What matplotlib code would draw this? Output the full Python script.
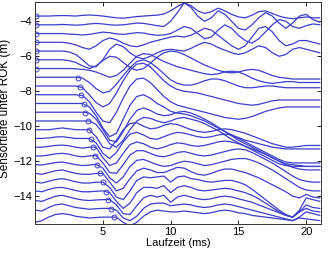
import matplotlib
matplotlib.use("Agg")
import matplotlib.pyplot as plt
import numpy as np

plt.rcParams['font.family'] = ['Liberation Sans', 'DejaVu Sans']

# time axis of the traces (ms)
t = [i * 0.5 for i in range(43)]

# sensor depths (m) and first-break picks (ms)
depth = [-3.7, -4.2, -4.7, -5.2, -5.7, -6.2, -6.7, -7.2, -7.7, -8.2, -8.7, -9.2,
         -9.7, -10.2, -10.7, -11.2, -11.7, -12.2, -12.7, -13.2, -13.7, -14.2, -14.7, -15.2]
pick = [0.1, 0.1, 0.1, 0.1, 0.1, 0.1, 0.1, 3.2, 3.3, 3.4, 3.6, 3.7,
        3.9, 4.0, 4.1, 4.3, 4.4, 4.6, 4.8, 5.0, 5.2, 5.4, 5.6, 5.8]

# trace amplitudes (m), one list per sensor
tr0 = [0,0,0,.02,.03,.02,0,.04,.06,.04, 0,-.05,-.1,-.12,-.08,-.03,0,.03,.05,.12,
       .3,.55,.75,.6,.3,.15,.25,.45,.3,.1, -.05,-.1,.05,.25,.3,.15,0,-.1,-.15,-.1, -.05,-.1,-.1]
tr1 = [0,0,0,0,.02,0,-.02,0,.05,.08, .05,0,-.02,0,.05,.1,.08,.02,-.05,-.1,
       .2,.7,1.25,1.0,.5,.2,.4,.8,.6,.2, -.2,-.3,0,.4,.7,.5,.1,-.2,.1,.5, .6,.3,.15]
tr2 = [0,0,0,0,0,-.03,-.05,-.08,-.05,.02, .08,.05,-.02,-.05,0,.05,.03,-.05,-.1,-.08,
       0,.2,.4,.3,0,-.3,-.2,.2,.5,.3, -.1,-.4,-.55,-.3,.1,.5,.8,.7,.4,.3, .45,.55,.5]
tr3 = [0,0,0,0,0,-.05,-.15,-.3,-.4,-.2, .1,.25,.15,-.05,-.2,-.25,-.15,0,.1,.2,
       .3,.35,.3,.4,.6,.8,.7,.4,.1,-.2, -.4,-.2,.3,.8,.9,.6,.1,-.2,-.1,.1, .1,0,-.1]
tr4 = [0,0,0,0,0,-.05,-.2,-.5,-.85,-.9, -.5,.1,.4,.25,-.1,-.35,-.45,-.3,-.1,.05,
       .1,.05,0,.15,.35,.5,.4,.2,.05,-.1, -.2,-.1,.1,.3,.2,-.1,-.3,-.2,.1,.2, .1,0,-.1]
tr5 = [0,0,0,0,0,-.05,-.15,-.35,-.5,-.35, -.05,.2,.15,-.15,-.45,-.6,-.5,-.2,.15,.4,
       .5,.45,.3,.1,-.1,-.3,-.45,-.6,-.7,-.75, -.7,-.6,-.55,-.6,-.75,-.9,-1.0,-1.05,-1.1,-1.1, -1.1,-1.1,-1.1]
tr6 = [0,0,0,0,0,0,-.02,-.05,-.1,-.2, -.35,-.5,-.4,-.1,.3,.7,.85,.8,.6,.4,
       .25,.1,0,-.1,-.2,-.3,-.35,-.3,-.2,-.15, -.2,-.35,-.55,-.7,-.8,-.85,-.8,-.75,-.75,-.8, -.8,-.8,-.8]
tr7 = [0,0,0,0,0,0,0,-.05,-.3,-.65, -.9,-.8,-.4,.1,.55,.9,1.0,.85,.55,.2,
       -.15,-.35,-.45,-.45,-.35,-.2,-.1,-.1,-.2,-.35, -.5,-.6,-.6,-.55,-.5,-.5,-.55,-.6,-.6,-.6, -.6,-.6,-.6]
tr8 = [0,0,0,0,0,0,0,-.1,-.5,-.95, -1.2,-1.0,-.4,.3,.9,1.25,1.3,1.1,.7,.3,
       0,-.2,-.3,-.35,-.4,-.5,-.6,-.7,-.8,-.9, -1.0,-1.05,-1.1,-1.05,-.95,-.85,-.8,-.8,-.8,-.8, -.8,-.8,-.8]
tr9 = [0,0,0,0,0,0,0,-.05,-.4,-1.0, -1.5,-1.6,-1.0,-.2,.5,.9,.95,.7,.3,-.1,
       -.4,-.6,-.7,-.8,-.9,-1.0,-1.1,-1.2,-1.3,-1.35, -1.4,-1.35,-1.25,-1.1,-.95,-.85,-.75,-.7,-.7,-.7, -.7,-.7,-.7]
tr10 = [0,0,0,0,0,0,0,0,-.2,-.7, -1.4,-1.9,-1.7,-.9,-.1,.4,.5,.3,0,-.2,
        -.45,-.55,-.6,-.7,-.85,-1.0,-1.2,-1.4,-1.6,-1.8, -2.0,-2.2,-2.4,-2.6,-2.8,-3.0,-3.2,-3.35,-3.4,-3.4, -3.4,-3.4,-3.4]
tr11 = [0,0,0,0,0,0,0,0,-.05,-.4, -1.0,-1.6,-1.7,-1.1,-.4,.1,.25,.1,-.1,-.2,
        -.15,0,.05,-.05,-.2,-.4,-.6,-.85,-1.1,-1.35, -1.6,-1.8,-2.0,-2.2,-2.4,-2.6,-2.8,-2.95,-3.0,-3.05, -3.1,-3.1,-3.1]
tr12 = [0,0,0,0,0,0,0,0,0,-.2, -.7,-1.3,-1.5,-1.1,-.5,0,.2,.15,0,-.1,
        0,.15,.2,.1,0,-.15,-.35,-.55,-.8,-1.05, -1.25,-1.45,-1.65,-1.85,-2.05,-2.25,-2.45,-2.55,-2.6,-2.6, -2.6,-2.6,-2.6]
tr13 = [0,0,0,.05,.1,.05,0,0,0,-.4, -1.0,-1.1,-.6,0,.35,.4,.2,.05,.1,.25,
        .35,.3,.15,0,-.1,-.15,-.1,0,.05,0, -.1,-.2,-.35,-.5,-.65,-.8,-.9,-1.0,-1.0,-.95, -.9,-.9,-.9]
tr14 = [0,0,.03,.08,.1,.05,0,0,0,-.25, -.85,-1.15,-.8,-.2,.25,.35,.2,0,-.05,.1,
        .25,.35,.3,.2,.1,.05,.1,.2,.25,.2, .05,-.1,-.2,-.3,-.4,-.5,-.55,-.6,-.6,-.6, -.6,-.6,-.6]
tr15 = [0,0,.05,.1,.12,.08,0,-.05,0,0, -.6,-1.05,-.9,-.35,.15,.3,.2,0,-.1,0,
        .15,.25,.2,.1,.05,.1,.2,.3,.35,.3, .2,.05,-.1,-.25,-.4,-.6,-.8,-1.0,-1.15,-1.25, -1.3,-1.3,-1.3]
tr16 = [0,0,.05,.12,.15,.1,0,-.05,0,.02, -.4,-.95,-1.0,-.5,.05,.3,.3,.15,0,-.05,
        .05,.2,.25,.15,.05,0,.05,.15,.25,.35, .4,.35,.2,0,-.2,-.4,-.65,-.9,-1.15,-1.35, -1.45,-1.5,-1.5]
tr17 = [0,-.02,.05,.12,.15,.08,0,-.05,-.02,.02, -.2,-.75,-1.05,-.7,-.1,.25,.3,.15,0,-.1,
        -.05,.1,.2,.15,.05,-.05,0,.1,.2,.3, .35,.35,.25,.1,-.1,-.3,-.55,-.8,-1.05,-1.3, -1.45,-1.5,-1.5]
tr18 = [0,-.05,.05,.15,.2,.1,0,-.05,-.05,0, 0,-.5,-1.0,-.85,-.3,.15,.3,.2,.05,.05,
        .2,.35,.3,.1,-.05,-.1,0,.15,.25,.25, .15,.05,-.1,-.25,-.45,-.65,-.85,-1.05,-1.3,-1.4, -1.2,-1.35,-1.4]
tr19 = [0,-.05,.05,.15,.2,.12,.02,-.05,-.05,0, 0,-.3,-.85,-1.0,-.5,.1,.3,.25,.3,.35,
        0,.3,.35,.2,.15,.05,0,.05,.1,.1, 0,-.15,-.4,-.7,-1.0,-1.3,-1.6,-1.85,-2.0,-1.6, -.9,-1.0,-1.1]
tr20 = [0,-.05,.08,.18,.2,.12,.02,-.05,-.05,-.02, 0,-.1,-.6,-1.0,-.7,-.1,.2,.2,.15,.3,
        -.1,.2,.3,.2,.05,0,.05,.1,.15,.1, 0,-.1,-.25,-.45,-.7,-.95,-1.2,-1.4,-1.5,-1.2, -.8,-.95,-1.0]
tr21 = [-.05,-.1,.05,.2,.25,.15,.05,-.02,-.05,-.02, 0,0,-.3,-.8,-.85,-.35,.1,.25,.15,.25,
        -.15,.15,.25,.15,.05,0,.05,.15,.2,.15, .05,-.05,-.15,-.3,-.45,-.6,-.75,-.9,-1.0,-.7, -.5,-.65,-.7]
tr22 = [-.1,-.15,.05,.2,.25,.15,.05,0,-.05,-.02, 0,0,-.1,-.55,-.7,-.45,0,.25,.3,.3,
        .15,.2,.25,.2,.1,.05,.1,.2,.25,.2, .1,0,-.1,-.2,-.3,-.4,-.5,-.6,-.7,-.5, -.2,-.3,-.4]
tr23 = [-.3,-.2,0,.15,.2,.15,.05,0,-.05,-.02, 0,0,0,-.3,-.5,-.3,.05,.3,.4,.35,
        .3,.3,.35,.3,.25,.2,.25,.35,.4,.35, .25,.2,.1,.05,0,-.05,-.1,-.15,-.2,-.05, -.1,-.15,-.2]

traces = [tr0, tr1, tr2, tr3, tr4, tr5, tr6, tr7, tr8, tr9, tr10, tr11,
          tr12, tr13, tr14, tr15, tr16, tr17, tr18, tr19, tr20, tr21, tr22, tr23]

col = (0.24, 0.24, 0.80)

fig = plt.figure(figsize=(3.28, 2.6), dpi=100)
ax = fig.add_axes([0.107, 0.138, 0.872, 0.854])

for d, p, a in zip(depth, pick, traces):
    y = d + np.array(a)
    ax.plot(t, y, "-", color=col, lw=0.9)
    ax.plot([p], [d + np.interp(p, t, a)], "o", mfc="none", mec=col, ms=3.5, mew=0.7)

ax.set_xlim(0, 21.1)
ax.set_ylim(-15.6, -2.9)
ax.set_xticks([5, 10, 15, 20])
ax.set_yticks([-14, -12, -10, -8, -6, -4])
ax.tick_params(direction="in", length=3, width=0.6, labelsize=8, top=True, right=True, pad=2)
for s in ax.spines.values():
    s.set_linewidth(0.7)
    s.set_color("#333333")
ax.set_xlabel("Laufzeit (ms)", fontsize=8, labelpad=1)
ax.set_ylabel("Sensortiefe unter ROK (m)", fontsize=8.5, labelpad=1)
ax.yaxis.set_label_coords(-0.085, 0.52)

fig.savefig("out.png", dpi=100)
